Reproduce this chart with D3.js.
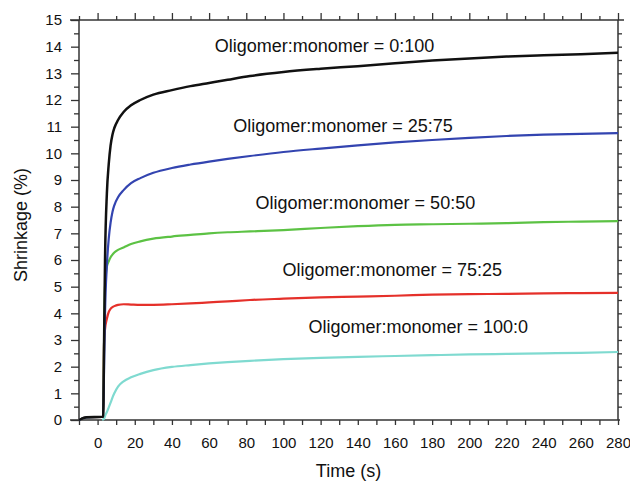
<!DOCTYPE html>
<html>
<head>
<meta charset="utf-8">
<script src="https://cdn.jsdelivr.net/npm/d3@7"></script>
<style>
  body { margin: 0; background: #fff; }
  svg { display: block; font-family: "Liberation Sans", Arial, Helvetica, sans-serif; }
  .axis path { display: none; }
  .axis line { stroke: #333; stroke-width: 1.3; }
  .axis text { font-size: 15px; fill: #111; }
</style>
</head>
<body>
<div class="chart"></div>
<script>
var svgWidth = 630;
var svgHeight = 484;

// time (s)
var times = [-10, -6, 2.5, 3, 3.5, 4, 5, 6, 7, 8, 9, 11, 14, 18, 23, 30, 40, 50, 60, 70, 82,
  100, 120, 140, 160, 180, 200, 220, 240, 260, 280];

var ratios = ["0:100", "25:75", "50:50", "75:25", "100:0"];

// shrinkage (%) per series
var shrink0 = [0, 0.1, 0.12, 0.12, 3, 6, 8.5, 9.6, 10.3, 10.7, 10.95, 11.25, 11.55, 11.8, 12.0, 12.2, 12.37, 12.52, 12.64, 12.76, 12.9,
  13.05, 13.17, 13.27, 13.38, 13.48, 13.56, 13.63, 13.68, 13.72, 13.77];
var shrink25 = [0, 0.1, 0.12, 0.12, 2, 4, 5.8, 6.8, 7.4, 7.8, 8.05, 8.35, 8.62, 8.88, 9.07, 9.27, 9.45, 9.58, 9.69, 9.79, 9.9,
  10.05, 10.18, 10.3, 10.41, 10.5, 10.58, 10.65, 10.7, 10.73, 10.76];
var shrink50 = [0, 0.1, 0.12, 0.12, 3, 5.0, 5.75, 5.95, 6.1, 6.2, 6.28, 6.38, 6.47, 6.6, 6.7, 6.8, 6.88, 6.94, 7.0, 7.04, 7.07,
  7.12, 7.2, 7.27, 7.32, 7.34, 7.36, 7.38, 7.42, 7.44, 7.46];
var shrink75 = [0, 0.1, 0.12, 0.12, 2.9, 3.4, 3.8, 4.05, 4.17, 4.23, 4.27, 4.32, 4.34, 4.33, 4.32, 4.32, 4.34, 4.37, 4.41, 4.45, 4.5,
  4.55, 4.6, 4.63, 4.66, 4.7, 4.72, 4.73, 4.75, 4.76, 4.77];
var shrink100 = [null, null, 0, 0.02, 0.05, 0.15, 0.3, 0.47, 0.65, 0.84, 1.0, 1.25, 1.45, 1.6, 1.73, 1.87, 1.99, 2.06, 2.12, 2.17, 2.22,
  2.28, 2.33, 2.37, 2.4, 2.43, 2.46, 2.48, 2.5, 2.52, 2.55];

var xTicks = d3.range(0, 281, 20);
var yTicks = d3.range(0, 16, 1);

var series = [
  { name: ratios[4], values: shrink100, color: "#7fdad0", width: 2.2 },
  { name: ratios[3], values: shrink75, color: "#e5302a", width: 2.2 },
  { name: ratios[2], values: shrink50, color: "#5cc244", width: 2.2 },
  { name: ratios[1], values: shrink25, color: "#3344b0", width: 2.2 },
  { name: ratios[0], values: shrink0, color: "#111111", width: 2.5 }
];

// where each label sits (left edge in time units, baseline in shrinkage units)
var labelPos = { "0:100": [63, 13.8], "25:75": [73, 10.8], "50:50": [85, 7.9], "75:25": [99.5, 5.4], "100:0": [113.5, 3.25] };

var svg = d3.select(".chart")
  .append("svg")
  .attr("width", svgWidth)
  .attr("height", svgHeight);

var x = d3.scaleLinear().domain([-10, 280]).range([79, 618]);
var y = d3.scaleLinear().domain([0, 15]).range([420, 20]);

var x0 = x.range()[0], x1 = x.range()[1];
var y0 = y.range()[0], y1 = y.range()[1];

// minor ticks first
svg.append("g").attr("class", "axis")
  .attr("transform", "translate(" + x0 + ",0)")
  .call(d3.axisLeft(y).tickValues(d3.range(0.5, 15, 1)).tickSize(5).tickFormat(""));
svg.append("g").attr("class", "axis")
  .attr("transform", "translate(0," + y1 + ")")
  .call(d3.axisTop(x).tickValues(d3.range(-10, 281, 20)).tickSize(4).tickFormat(""));
svg.append("g").attr("class", "axis")
  .attr("transform", "translate(0," + y0 + ")")
  .call(d3.axisBottom(x).tickValues(d3.range(-10, 281, 20)).tickSize(5).tickFormat(""));

// major ticks
svg.append("g").attr("class", "axis")
  .attr("transform", "translate(" + x0 + ",0)")
  .call(d3.axisLeft(y).tickValues(yTicks).tickSize(8).tickPadding(9).tickFormat(d3.format("d")));
svg.append("g").attr("class", "axis")
  .attr("transform", "translate(0," + y0 + ")")
  .call(d3.axisBottom(x).tickValues(xTicks).tickSize(5).tickPadding(12).tickFormat(d3.format("d")));
svg.append("g").attr("class", "axis")
  .attr("transform", "translate(0," + y1 + ")")
  .call(d3.axisTop(x).tickValues(xTicks).tickSize(7).tickFormat(""));
svg.append("g").attr("class", "axis")
  .attr("transform", "translate(" + x1 + ",0)")
  .call(d3.axisRight(y).tickValues(d3.range(0.5, 15, 0.5)).tickSize(4).tickFormat(""));

// frame
var frame = svg.append("g").attr("stroke", "#333").attr("stroke-width", 1.5);
frame.append("line").attr("x1", x0 - 9).attr("x2", x1 + 2).attr("y1", y0).attr("y2", y0);
frame.append("line").attr("x1", x0 - 9).attr("x2", x1 + 6).attr("y1", y1).attr("y2", y1);
frame.append("line").attr("x1", x0).attr("x2", x0).attr("y1", y0).attr("y2", y1);
frame.append("line").attr("x1", x1).attr("x2", x1).attr("y1", y0).attr("y2", y1);

// curves
var line = d3.line()
  .defined(function(d) { return d[1] !== null; })
  .x(function(d) { return x(d[0]); })
  .y(function(d) { return y(d[1]); })
  .curve(d3.curveMonotoneX);

series.forEach(function(s) {
  var pts = times.map(function(t, i) { return [t, s.values[i]]; });
  svg.append("path")
    .datum(pts)
    .attr("fill", "none")
    .attr("stroke", s.color)
    .attr("stroke-width", s.width)
    .attr("stroke-linejoin", "round")
    .attr("d", line);
});

// curve labels
ratios.forEach(function(r) {
  svg.append("text")
    .attr("x", x(labelPos[r][0]))
    .attr("y", y(labelPos[r][1]))
    .attr("font-size", "18px")
    .attr("fill", "#111")
    .text("Oligomer:monomer = " + r);
});

// axis titles
svg.append("text")
  .attr("x", (x0 + x1) / 2)
  .attr("y", 477)
  .attr("text-anchor", "middle")
  .attr("font-size", "18px")
  .attr("fill", "#111")
  .text("Time (s)");

svg.append("text")
  .attr("transform", "translate(27," + ((y0 + y1) / 2 + 5) + ") rotate(-90)")
  .attr("text-anchor", "middle")
  .attr("font-size", "18px")
  .attr("fill", "#111")
  .text("Shrinkage (%)");
</script>
</body>
</html>
